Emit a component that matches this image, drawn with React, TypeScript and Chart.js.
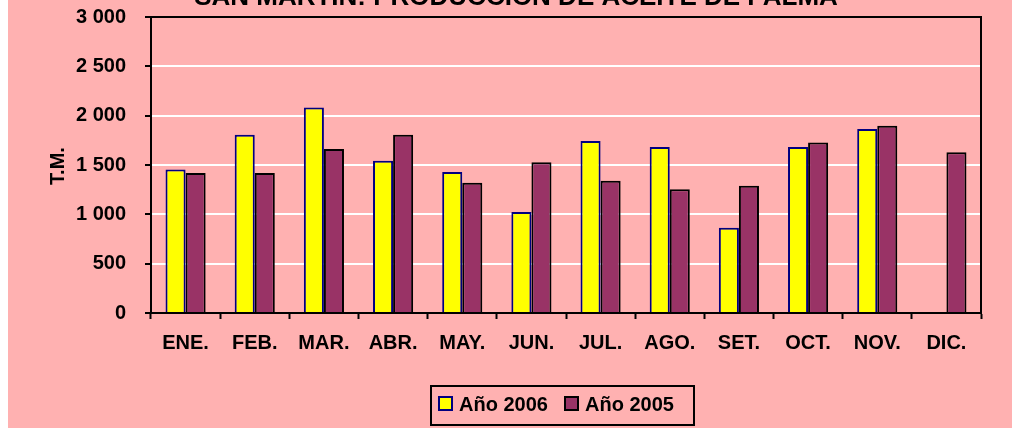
import React, { useEffect, useRef } from 'react';
import { Chart, registerables } from 'chart.js';

Chart.register(...registerables);

const months = ['ENE.', 'FEB.', 'MAR.', 'ABR.', 'MAY.', 'JUN.', 'JUL.', 'AGO.', 'SET.', 'OCT.', 'NOV.', 'DIC.'];
const ano2006 = [1455, 1807, 2084, 1544, 1430, 1024, 1743, 1682, 865, 1682, 1865, null];
const ano2005 = [1419, 1420, 1662, 1807, 1321, 1527, 1341, 1253, 1290, 1729, 1898, 1628];
const seriesLabels = ['Año 2006', 'Año 2005'];
const titleText = 'SAN MARTIN: PRODUCCION DE ACEITE DE PALMA';
const yTitle = 'T.M.';
const yMin = 0;
const yMax = 3000;
const yStep = 500;

const FONT = '"Liberation Sans", Arial, sans-serif';
const BG = '#FFB1B1';
const YELLOW = '#FFFF00';
const YELLOW_BORDER = '#000080';
const PURPLE = '#993366';
const PURPLE_BORDER = '#000000';

const fmt = (v: number) => {
  if (v >= 1000) {
    const th = Math.floor(v / 1000);
    const rest = String(v % 1000).padStart(3, '0');
    return `${th} ${rest}`;
  }
  return String(v);
};

const decorPlugin = {
  id: 'decor',
  beforeDraw(chart: any) {
    const { ctx, width, height } = chart;
    ctx.save();
    ctx.fillStyle = BG;
    ctx.fillRect(0, 0, width, height);
    ctx.restore();
  },
  afterDraw(chart: any) {
    const { ctx, chartArea } = chart;
    ctx.save();
    // top & right frame
    ctx.strokeStyle = '#000';
    ctx.lineWidth = 2;
    ctx.beginPath();
    ctx.moveTo(chartArea.left, chartArea.top);
    ctx.lineTo(chartArea.right, chartArea.top);
    ctx.lineTo(chartArea.right, chartArea.bottom);
    ctx.stroke();

    // title (partially cut at top)
    ctx.fillStyle = '#000';
    ctx.font = `bold 26px ${FONT}`;
    ctx.textAlign = 'center';
    ctx.textBaseline = 'alphabetic';
    ctx.fillText(titleText, 508, 5);

    // y title
    ctx.save();
    ctx.translate(50, 166);
    ctx.rotate(-Math.PI / 2);
    ctx.font = `bold 20px ${FONT}`;
    ctx.textAlign = 'center';
    ctx.textBaseline = 'middle';
    ctx.fillText(yTitle, 0, 0);
    ctx.restore();

    // legend
    const bx = 423, by = 386, bw = 263, bh = 39;
    ctx.strokeStyle = '#000';
    ctx.lineWidth = 2;
    ctx.strokeRect(bx, by, bw, bh);
    ctx.font = `bold 20px ${FONT}`;
    ctx.textAlign = 'left';
    ctx.textBaseline = 'alphabetic';
    const items = [
      { label: seriesLabels[0], fill: YELLOW, border: YELLOW_BORDER, sx: 431, tx: 451 },
      { label: seriesLabels[1], fill: PURPLE, border: PURPLE_BORDER, sx: 557, tx: 577 },
    ];
    items.forEach((it) => {
      ctx.fillStyle = it.fill;
      ctx.fillRect(it.sx, 397, 13, 13);
      ctx.strokeStyle = it.border;
      ctx.lineWidth = 2;
      ctx.strokeRect(it.sx, 397, 13, 13);
      ctx.fillStyle = '#000';
      ctx.fillText(it.label, it.tx, 411);
    });
    ctx.restore();
  },
};

export default function App() {
  const ref = useRef<HTMLCanvasElement>(null);
  useEffect(() => {
    if (!ref.current) return;
    const chart = new Chart(ref.current, {
      type: 'bar',
      data: {
        labels: months,
        datasets: [
          {
            label: seriesLabels[0],
            data: ano2006,
            backgroundColor: YELLOW,
            borderColor: YELLOW_BORDER,
            borderWidth: 2,
            categoryPercentage: 0.58,
            barPercentage: 1,
          },
          {
            label: seriesLabels[1],
            data: ano2005,
            backgroundColor: PURPLE,
            borderColor: PURPLE_BORDER,
            borderWidth: 2,
            categoryPercentage: 0.58,
            barPercentage: 1,
          },
        ],
      },
      options: {
        animation: false,
        responsive: false,
        maintainAspectRatio: false,
        layout: { padding: { top: 17, right: 31, bottom: 0, left: 0 } },
        plugins: {
          legend: { display: false },
          title: { display: false },
          tooltip: { enabled: false },
        },
        scales: {
          x: {
            offset: true,
            grid: {
              display: true,
              offset: true,
              drawOnChartArea: false,
              drawTicks: true,
              tickLength: 6,
              tickColor: '#000',
              tickWidth: 2,
            },
            border: { display: true, color: '#000', width: 2 },
            ticks: {
              color: '#000',
              font: { family: FONT, size: 20, weight: 'bold' },
              padding: 12,
              maxRotation: 0,
              autoSkip: false,
            },
            afterFit: (scale: any) => {
              scale.height = 115;
              scale.paddingLeft = 0;
              scale.paddingRight = 0;
            },
          },
          y: {
            min: yMin,
            max: yMax,
            ticks: {
              stepSize: yStep,
              color: '#000',
              font: { family: FONT, size: 20, weight: 'bold' },
              padding: 19,
              callback: (v: any) => fmt(Number(v)),
            },
            grid: {
              color: (ctx: any) =>
                ctx.tick && (ctx.tick.value === yMin || ctx.tick.value === yMax) ? 'rgba(0,0,0,0)' : '#FFFFFF',
              lineWidth: 2,
              tickColor: '#000',
              tickLength: 6,
              tickWidth: 2,
            },
            border: { display: true, color: '#000', width: 2 },
            afterFit: (scale: any) => {
              scale.width = 143;
              scale.paddingTop = 0;
              scale.paddingBottom = 0;
            },
          },
        },
      },
      plugins: [decorPlugin],
    });
    return () => chart.destroy();
  }, []);
  return (
    <div style={{ position: 'absolute', left: 8, top: 0, width: 1004, height: 428 }}>
      <canvas ref={ref} width={1004} height={428} style={{ width: 1004, height: 428, display: 'block' }} />
    </div>
  );
}
